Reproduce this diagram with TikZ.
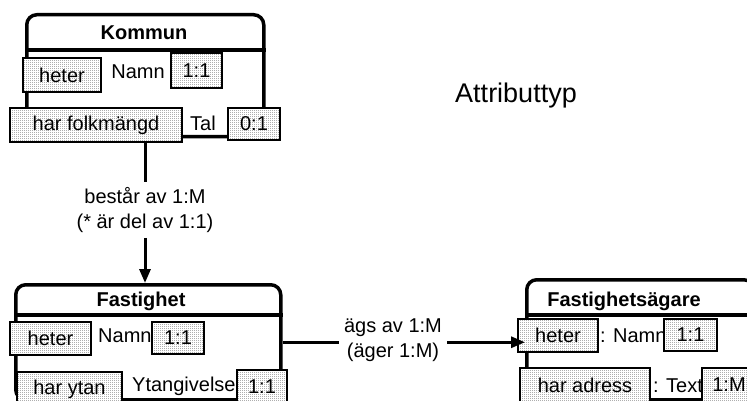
\documentclass[tikz,border=0pt]{standalone}
\usepackage{fontspec}
\setmainfont{Liberation Sans}
\usetikzlibrary{arrows.meta, patterns}
\newcommand{\corCaixa}{black!75}
\newcommand{\corLinha}{black}
\pgfdeclarepatternformonly{pontos}{\pgfpointorigin}{\pgfpoint{2pt}{2pt}}{\pgfpoint{2pt}{2pt}}{%
  \pgfpathrectangle{\pgfpointorigin}{\pgfpoint{1pt}{1pt}}\pgfusepath{fill}}

\begin{document}
\begin{tikzpicture}[x=1pt, y=-1pt,
    font=\fontsize{20}{25}\selectfont,
    entidade/.style={draw=\corLinha, line width=3.5pt, rounded corners=10pt, inner sep=0pt, anchor=north west},
    titulo/.style={inner sep=0pt, anchor=base, font=\fontsize{20}{25}\selectfont\bfseries},
    atributo/.style={draw=\corLinha, line width=2pt, preaction={fill=white}, pattern=pontos, pattern color=\corCaixa, inner sep=0pt, minimum height=34pt},
    texto/.style={inner sep=0pt, anchor=base},
    relacao/.style={align=center, inner sep=5pt},
    conector/.style={line width=3pt}]
  \useasboundingbox (0,0) rectangle (747,401);
  \clip (0,0) rectangle (747,401);

  % entidade Kommun
  \node[entidade, minimum width=237pt, minimum height=122pt] (kommun) at (25,13) {};
  \node[titulo] (kommunT) at (144,40) {Kommun};
  \draw[line width=3.5pt] (kommun.west |- 0,50) -- (kommun.east |- 0,50);
  \node[texto] (kommunNamn) at (138,79) {Namn};
  \node[texto] (kommunTal) at (203,131) {Tal};
  \node[atributo, minimum width=78pt] (kommunHeter) at (62,75) {heter};
  \node[atributo, minimum width=51pt, minimum height=35pt] (kommunN11) at (196.5,70.5) {1:1};
  \node[atributo, minimum width=172pt] (harFolk) at (96,125) {har folkmängd};
  \node[atributo, minimum width=52pt, minimum height=32pt] (kommunT01) at (254,124) {0:1};

  % entidade Fastighet
  \node[entidade, minimum width=265pt, minimum height=115pt] (fast) at (14,283) {};
  \node[titulo] (fastT) at (141,306) {Fastighet};
  \draw[line width=3.5pt] (fast.west |- 0,315) -- (fast.east |- 0,315);
  \node[texto, anchor=base west] (fastNamn) at (98,342) {Namn};
  \node[texto, anchor=base west] (fastYta) at (132,391) {Ytangivelse};
  \node[atributo, minimum width=81pt, minimum height=33pt] (fastHeter) at (50.5,338.5) {heter};
  \node[atributo, minimum width=52pt, minimum height=32pt] (fastN11) at (178,338) {1:1};
  \node[atributo, minimum width=105pt] (harYtan) at (69.5,389) {har ytan};
  \node[atributo, minimum width=50pt] (fastY11) at (262,387) {1:1};

  % entidade Fastighetsägare
  \node[entidade, minimum width=227pt, minimum height=120pt] (fa) at (525,278) {};
  \node[titulo] (faT) at (624,306) {Fastighetsägare};
  \draw[line width=3.5pt] (fa.west |- 0,315) -- (fa.east |- 0,315);
  \node[texto, anchor=base west] (faNamn) at (600,342) {: Namn};
  \node[texto, anchor=base west] (faText) at (653,392) {: Text};
  \node[atributo, minimum width=80pt, minimum height=33pt] (faHeter) at (558,335.5) {heter};
  \node[atributo, minimum width=53pt, minimum height=32pt] (faN11) at (690.5,335) {1:1};
  \node[atributo, minimum width=130pt] (harAdress) at (585,385) {har adress};
  \node[atributo, minimum width=54pt] (faT1M) at (729,385) {1:M};

  % Attributtyp
  \node[texto, font=\fontsize{27}{32}\selectfont] (attrTyp) at (516,103) {Attributtyp};

  % relation Kommun -- Fastighet
  \node[relacao] (rel1) at (145,210) {består av 1:M\\(* är del av 1:1)};
  \draw[conector] (harFolk.south -| rel1) -- (rel1.north);
  \draw[conector, -{Triangle[length=14pt, width=11pt]}] (rel1.south) -- (rel1.south |- fast.north);

  % relation Fastighet -- Fastighetsägare
  \node[relacao] (rel2) at (393,340) {ägs av 1:M\\(äger 1:M)};
  \draw[conector] (fast.east) -- (fast.east -| rel2.west);
  \draw[conector, -{Triangle[length=14pt, width=11pt]}] (fast.east -| rel2.east) -- (fast.east -| fa.west);
\end{tikzpicture}
\end{document}
